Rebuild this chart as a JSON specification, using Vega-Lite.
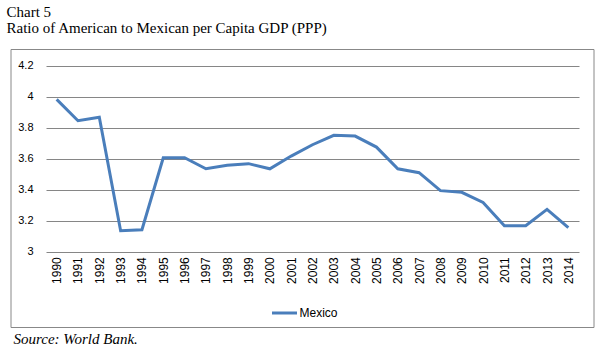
{
  "$schema": "https://vega.github.io/schema/vega-lite/v6.json",
  "autosize": {"type": "none"},
  "padding": {"left": 10.5, "top": 49, "right": 19.5, "bottom": 33},
  "width": 583,
  "height": 278,
  "background": "white",
  "title": {
    "text": ["Chart 5", "Ratio of American to Mexican per Capita GDP (PPP)"],
    "anchor": "start",
    "frame": "group",
    "dx": -4,
    "offset": 13,
    "font": "Liberation Serif",
    "fontSize": 15,
    "fontWeight": "normal",
    "color": "#000000",
    "lineHeight": 16.5
  },
  "config": {
    "view": {"stroke": "#888888", "strokeWidth": 1},
    "axis": {"labelColor": "#000000"}
  },
  "data": {
    "values": [
      {"year": 1990, "ratio": 3.983, "country": "Mexico"},
      {"year": 1991, "ratio": 3.845, "country": "Mexico"},
      {"year": 1992, "ratio": 3.867, "country": "Mexico"},
      {"year": 1993, "ratio": 3.135, "country": "Mexico"},
      {"year": 1994, "ratio": 3.142, "country": "Mexico"},
      {"year": 1995, "ratio": 3.606, "country": "Mexico"},
      {"year": 1996, "ratio": 3.606, "country": "Mexico"},
      {"year": 1997, "ratio": 3.535, "country": "Mexico"},
      {"year": 1998, "ratio": 3.557, "country": "Mexico"},
      {"year": 1999, "ratio": 3.568, "country": "Mexico"},
      {"year": 2000, "ratio": 3.535, "country": "Mexico"},
      {"year": 2001, "ratio": 3.617, "country": "Mexico"},
      {"year": 2002, "ratio": 3.690, "country": "Mexico"},
      {"year": 2003, "ratio": 3.751, "country": "Mexico"},
      {"year": 2004, "ratio": 3.746, "country": "Mexico"},
      {"year": 2005, "ratio": 3.675, "country": "Mexico"},
      {"year": 2006, "ratio": 3.535, "country": "Mexico"},
      {"year": 2007, "ratio": 3.510, "country": "Mexico"},
      {"year": 2008, "ratio": 3.394, "country": "Mexico"},
      {"year": 2009, "ratio": 3.383, "country": "Mexico"},
      {"year": 2010, "ratio": 3.318, "country": "Mexico"},
      {"year": 2011, "ratio": 3.168, "country": "Mexico"},
      {"year": 2012, "ratio": 3.168, "country": "Mexico"},
      {"year": 2013, "ratio": 3.273, "country": "Mexico"},
      {"year": 2014, "ratio": 3.155, "country": "Mexico"}
    ]
  },
  "mark": {"type": "line", "strokeWidth": 3, "strokeCap": "butt", "strokeJoin": "miter"},
  "encoding": {
    "x": {
      "field": "year",
      "type": "quantitative",
      "scale": {"domain": [1989.5, 2014.5], "range": [35.5, 568.5], "nice": false, "zero": false},
      "axis": {
        "orient": "bottom",
        "offset": -75.3,
        "values": [1990, 1991, 1992, 1993, 1994, 1995, 1996, 1997, 1998, 1999, 2000, 2001, 2002, 2003, 2004, 2005, 2006, 2007, 2008, 2009, 2010, 2011, 2012, 2013, 2014],
        "format": "d",
        "labelAngle": 270,
        "labelAlign": "right",
        "labelBaseline": "middle",
        "labelPadding": 5,
        "labelFont": "Liberation Sans",
        "labelFontSize": 12,
        "labelOverlap": false,
        "labelFlush": false,
        "ticks": false,
        "tickSize": 0,
        "domain": false,
        "grid": false,
        "title": "Source: World Bank.",
        "titleFont": "Liberation Serif",
        "titleFontStyle": "italic",
        "titleFontWeight": "normal",
        "titleFontSize": 15,
        "titleColor": "#000000",
        "titleAngle": 0,
        "titleAlign": "left",
        "titleBaseline": "alphabetic",
        "titleAnchor": "start",
        "titleX": 2.5,
        "titleY": 91.3
      }
    },
    "y": {
      "field": "ratio",
      "type": "quantitative",
      "scale": {"domain": [3, 4.2], "range": [202.7, 16.7], "nice": false, "zero": false},
      "axis": {
        "orient": "left",
        "values": [3, 3.2, 3.4, 3.6, 3.8, 4, 4.2],
        "format": "~g",
        "labelAlign": "right",
        "labelBaseline": "middle",
        "labelPadding": -22.5,
        "labelFont": "Liberation Sans",
        "labelFontSize": 11,
        "ticks": false,
        "tickSize": 0,
        "domain": false,
        "grid": true,
        "gridColor": "#868686",
        "gridWidth": 1,
        "gridOpacity": 1,
        "title": null
      }
    },
    "color": {
      "field": "country",
      "type": "nominal",
      "scale": {"range": ["#4a7ebb"]},
      "legend": {
        "orient": "none",
        "legendX": 260,
        "legendY": 250,
        "title": null,
        "symbolType": "stroke",
        "symbolSize": 625,
        "symbolStrokeWidth": 3,
        "labelFont": "Liberation Sans",
        "labelFontSize": 12,
        "labelColor": "#000000",
        "labelOffset": 1
      }
    }
  }
}
